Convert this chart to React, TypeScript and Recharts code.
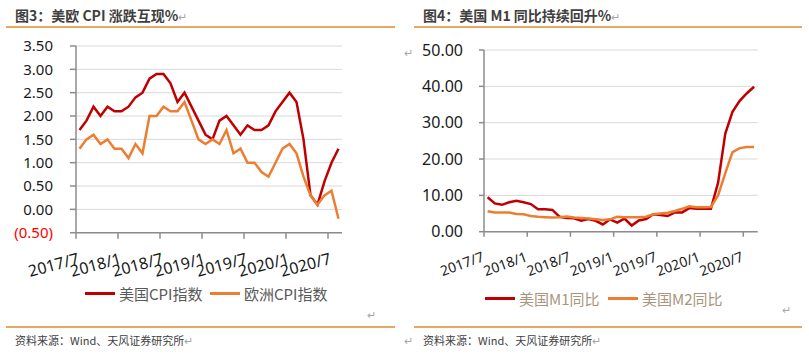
import React from "react";
import { LineChart, Line, XAxis, YAxis, CartesianGrid, Legend } from "recharts";

// ---- Data ----
const months: string[] = [
  "2017/7","2017/8","2017/9","2017/10","2017/11","2017/12",
  "2018/1","2018/2","2018/3","2018/4","2018/5","2018/6",
  "2018/7","2018/8","2018/9","2018/10","2018/11","2018/12",
  "2019/1","2019/2","2019/3","2019/4","2019/5","2019/6",
  "2019/7","2019/8","2019/9","2019/10","2019/11","2019/12",
  "2020/1","2020/2","2020/3","2020/4","2020/5","2020/6",
  "2020/7","2020/8",
];
const usCPI: number[] = [
  1.7, 1.9, 2.2, 2.0, 2.2, 2.1, 2.1, 2.2, 2.4, 2.5, 2.8, 2.9,
  2.9, 2.7, 2.3, 2.5, 2.2, 1.9, 1.6, 1.5, 1.9, 2.0, 1.8, 1.6,
  1.8, 1.7, 1.7, 1.8, 2.1, 2.3, 2.5, 2.3, 1.5, 0.3, 0.1, 0.6,
  1.0, 1.3,
];
const euCPI: number[] = [
  1.3, 1.5, 1.6, 1.4, 1.5, 1.3, 1.3, 1.1, 1.4, 1.2, 2.0, 2.0,
  2.2, 2.1, 2.1, 2.3, 1.9, 1.5, 1.4, 1.5, 1.4, 1.7, 1.2, 1.3,
  1.0, 1.0, 0.8, 0.7, 1.0, 1.3, 1.4, 1.2, 0.7, 0.3, 0.1, 0.3,
  0.4, -0.2,
];
const usM1: number[] = [
  9.5, 7.8, 7.4, 8.1, 8.5, 8.1, 7.6, 6.2, 6.2, 6.0, 4.1, 3.8,
  3.7, 3.0, 3.5, 3.0, 2.0, 3.4, 2.5, 3.6, 1.7, 3.1, 3.5, 4.8,
  4.6, 4.3, 5.3, 5.3, 6.5, 6.3, 6.3, 6.3, 13.5, 27.0, 33.0, 36.0,
  38.1, 39.9,
];
const usM2: number[] = [
  5.6, 5.3, 5.3, 5.3, 4.9, 4.8, 4.3, 4.1, 4.0, 3.9, 4.0, 4.2,
  3.9, 3.8, 3.6, 3.4, 3.2, 3.4, 4.1, 4.0, 4.0, 4.0, 4.1, 4.8,
  5.0, 5.2, 5.7, 6.3, 7.0, 6.7, 6.7, 6.8, 10.0, 16.1, 21.9, 23.0,
  23.3, 23.3,
];
const xTickLabels: string[] = ["2017/7", "2018/1", "2018/7", "2019/1", "2019/7", "2020/1", "2020/7"];
const xTickPositions: number[] = [-0.5, 5.5, 11.5, 17.5, 23.5, 29.5, 35.5];
const cpiTicks: number[] = [-0.5, 0, 0.5, 1, 1.5, 2, 2.5, 3, 3.5];
const moneyTicks: number[] = [0, 10, 20, 30, 40, 50];

const cpiData = months.map((m, i) => ({ i, month: m, us: usCPI[i], eu: euCPI[i] }));
const moneyData = months.map((m, i) => ({ i, month: m, m1: usM1[i], m2: usM2[i] }));

const RED = "#C00000";
const ORANGE = "#ED7D31";
const RULE = "#E3A862";
const GRID = "#D9D9D9";
const AXIS = "#8C8C8C";
const NUMFONT = "'Noto Sans', 'Open Sans', sans-serif";
const CJKFONT = "'Noto Sans CJK SC', 'Noto Sans', sans-serif";

const tickLabel = (v: number) => {
  const k = xTickPositions.indexOf(v);
  return k >= 0 ? xTickLabels[k] : "";
};

const LeftYTick = (props: any) => {
  const { x, y, payload } = props;
  const v = payload.value as number;
  const neg = v < 0;
  const label = neg ? `(${Math.abs(v).toFixed(2)})` : v.toFixed(2);
  return (
    <text x={x} y={y} dy="0.36em" textAnchor="end" fill={neg ? "#FF0000" : "#1A1A1A"} fontSize={15} fontFamily={NUMFONT}>
      {label}
    </text>
  );
};

const RightYTick = (props: any) => {
  const { x, y, payload } = props;
  return (
    <text x={x} y={y} dy="0.36em" textAnchor="end" fill="#1A1A1A" fontSize={16} fontFamily={NUMFONT}>
      {(payload.value as number).toFixed(2)}
    </text>
  );
};

const makeXTick = (dx: number, dy: number, angle: number, size: number) => (props: any) => {
  const { x, y, payload } = props;
  return (
    <g transform={`translate(${x + dx},${y + dy})`}>
      <text textAnchor="end" transform={`rotate(${angle})`} fill="#1A1A1A" fontSize={size} fontFamily={NUMFONT}>
        {tickLabel(payload.value)}
      </text>
    </g>
  );
};
const LeftXTick = makeXTick(4, 25, -15, 16);
const RightXTick = makeXTick(1, 24, -20, 14);

type LegItem = { x: number; label: string; color: string; lineW: number };

const makeLegend = (items: LegItem[], textColor: string) => () => (
  <div style={{ position: "relative", width: 400, height: 22 }}>
    {items.map((it, k) => (
      <React.Fragment key={k}>
        <div style={{ position: "absolute", left: it.x, top: 9, width: it.lineW, height: 3, background: it.color }} />
        <div
          style={{
            position: "absolute",
            left: it.x + it.lineW + 4,
            top: 0,
            fontSize: 15,
            lineHeight: "21px",
            color: textColor,
            fontFamily: CJKFONT,
            whiteSpace: "nowrap",
          }}
        >
          {it.label}
        </div>
      </React.Fragment>
    ))}
  </div>
);

const leftLegend = makeLegend(
  [
    { x: 85, label: "美国CPI指数", color: RED, lineW: 30 },
    { x: 210, label: "欧洲CPI指数", color: ORANGE, lineW: 30 },
  ],
  "#595959"
);
const rightLegend = makeLegend(
  [
    { x: 85, label: "美国M1同比", color: RED, lineW: 30 },
    { x: 208, label: "美国M2同比", color: ORANGE, lineW: 30 },
  ],
  "#A8957E"
);

const Mark = ({ x, y }: { x: number; y: number }) => (
  <div style={{ position: "absolute", left: x, top: y, fontSize: 11, color: "#A6A6A6", fontFamily: CJKFONT, lineHeight: "12px" }}>↵</div>
);

export default function App() {
  return (
    <div style={{ position: "absolute", left: 0, top: 0, width: 809, height: 357, background: "#FFFFFF", overflow: "hidden" }}>
      {/* titles */}
      <div style={{ position: "absolute", left: 15, top: 5, fontSize: 14, fontWeight: 700, color: "#3F3F3F", fontFamily: CJKFONT, lineHeight: "20px", whiteSpace: "nowrap" }}>
        图3：美欧 CPI 涨跌互现%<span style={{ fontWeight: 400, color: "#A6A6A6", fontSize: 11 }}>↵</span>
      </div>
      <div style={{ position: "absolute", left: 423, top: 5, fontSize: 14, fontWeight: 700, color: "#3F3F3F", fontFamily: CJKFONT, lineHeight: "20px", whiteSpace: "nowrap" }}>
        图4：美国 M1 同比持续回升%<span style={{ fontWeight: 400, color: "#A6A6A6", fontSize: 11 }}>↵</span>
      </div>
      <div style={{ position: "absolute", left: 6, top: 26, width: 389, height: 1.5, background: RULE }} />
      <div style={{ position: "absolute", left: 414, top: 26, width: 388, height: 1.5, background: RULE }} />

      {/* footers */}
      <div style={{ position: "absolute", left: 6, top: 326, width: 389, height: 1.5, background: RULE }} />
      <div style={{ position: "absolute", left: 414, top: 326, width: 388, height: 1.5, background: RULE }} />
      <div style={{ position: "absolute", left: 15, top: 333, fontSize: 11, color: "#404040", fontFamily: CJKFONT, lineHeight: "14px", whiteSpace: "nowrap" }}>
        资料来源：Wind、天风证券研究所<span style={{ color: "#A6A6A6" }}>↵</span>
      </div>
      <div style={{ position: "absolute", left: 423, top: 333, fontSize: 11, color: "#404040", fontFamily: CJKFONT, lineHeight: "14px", whiteSpace: "nowrap" }}>
        资料来源：Wind、天风证券研究所<span style={{ color: "#A6A6A6" }}>↵</span>
      </div>
      <Mark x={404} y={334} />
      <Mark x={367} y={308} />
      <Mark x={782} y={303} />
      <Mark x={404} y={46} />

      {/* left chart */}
      <div style={{ position: "absolute", left: 0, top: 0 }}>
        <LineChart width={400} height={357} data={cpiData} margin={{ top: 46, right: 58, left: 0, bottom: 94.3 }}>
          <CartesianGrid horizontal vertical={false} stroke={GRID} strokeWidth={1} />
          <XAxis
            dataKey="i"
            type="number"
            domain={[-0.5, 37.5]}
            ticks={xTickPositions}
            interval={0}
            height={30}
            tickSize={6}
            tickMargin={0}
            axisLine={{ stroke: AXIS, strokeWidth: 1.5 }}
            tickLine={{ stroke: AXIS, strokeWidth: 1.5 }}
            tick={<LeftXTick />}
            allowDataOverflow
          />
          <YAxis
            type="number"
            domain={[-0.5, 3.5]}
            ticks={cpiTicks}
            interval={0}
            width={76}
            tickSize={6}
            tickMargin={17}
            axisLine={{ stroke: AXIS, strokeWidth: 1.5 }}
            tickLine={{ stroke: AXIS, strokeWidth: 1.5 }}
            tick={<LeftYTick />}
            allowDataOverflow
          />
          <Legend
            layout="horizontal"
            verticalAlign="middle"
            align="center"
            content={leftLegend}
            wrapperStyle={{ left: 0, top: 283, width: 400, height: 22 }}
          />
          <Line type="linear" dataKey="us" name="美国CPI指数" stroke={RED} strokeWidth={2.5} dot={false} isAnimationActive={false} />
          <Line type="linear" dataKey="eu" name="欧洲CPI指数" stroke={ORANGE} strokeWidth={2.5} dot={false} isAnimationActive={false} />
        </LineChart>
      </div>

      {/* right chart */}
      <div style={{ position: "absolute", left: 400, top: 0 }}>
        <LineChart width={409} height={357} data={moneyData} margin={{ top: 50, right: 51.3, left: 0, bottom: 95.3 }}>
          <CartesianGrid horizontal vertical={false} stroke={GRID} strokeWidth={1} />
          <XAxis
            dataKey="i"
            type="number"
            domain={[-0.5, 37.5]}
            ticks={xTickPositions}
            interval={0}
            height={30}
            tickSize={5}
            tickMargin={0}
            axisLine={{ stroke: AXIS, strokeWidth: 1.5 }}
            tickLine={{ stroke: AXIS, strokeWidth: 1.5 }}
            tick={<RightXTick />}
            allowDataOverflow
          />
          <YAxis
            type="number"
            domain={[0, 50]}
            ticks={moneyTicks}
            interval={0}
            width={84}
            tickSize={5}
            tickMargin={16}
            axisLine={{ stroke: AXIS, strokeWidth: 1.5 }}
            tickLine={{ stroke: AXIS, strokeWidth: 1.5 }}
            tick={<RightYTick />}
            allowDataOverflow
          />
          <Legend
            layout="horizontal"
            verticalAlign="middle"
            align="center"
            content={rightLegend}
            wrapperStyle={{ left: 0, top: 288, width: 409, height: 22 }}
          />
          <Line type="linear" dataKey="m1" name="美国M1同比" stroke={RED} strokeWidth={2.5} dot={false} isAnimationActive={false} />
          <Line type="linear" dataKey="m2" name="美国M2同比" stroke={ORANGE} strokeWidth={2.5} dot={false} isAnimationActive={false} />
        </LineChart>
      </div>
    </div>
  );
}
